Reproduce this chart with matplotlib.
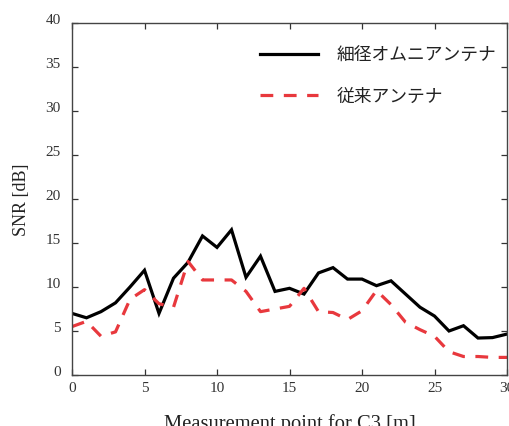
import matplotlib
matplotlib.use("Agg")
import matplotlib.pyplot as plt

# Measurement positions along C3 [m]
points = list(range(0, 31))

# SNR [dB] for the thin omnidirectional antenna
snr_omni = [7.0, 6.5, 7.2, 8.2, 10.0, 11.9, 7.0, 11.0, 12.8, 15.8, 14.5,
            16.5, 11.1, 13.5, 9.5, 9.85, 9.2, 11.6, 12.2, 10.9, 10.9,
            10.15, 10.7, 9.2, 7.7, 6.7, 5.0, 5.6, 4.2, 4.25, 4.65]

# SNR [dB] for the conventional antenna
snr_conv = [5.5, 6.1, 4.4, 4.9, 8.6, 9.7, 8.1, 7.7, 12.9, 10.8, 10.8,
            10.8, 9.5, 7.2, 7.5, 7.8, 9.85, 7.2, 7.1, 6.3, 7.3,
            9.6, 8.0, 6.0, 5.15, 4.4, 2.65, 2.1, 2.1, 2.0, 2.0]

labels = ["細径オムニアンテナ", "従来アンテナ"]
x_ticks = [0, 5, 10, 15, 20, 25, 30]
y_ticks = [0, 5, 10, 15, 20, 25, 30, 35, 40]

W, H = 509, 427
fig = plt.figure(figsize=(W / 100, H / 100), dpi=100)
ax = fig.add_axes([72 / W, (H - 376) / H, 435 / W, 352 / H])

ax.plot(points, snr_omni, color="black", lw=2.3, label=labels[0],
        solid_joinstyle="miter")
ax.plot(points, snr_conv, color="#E8383D", lw=2.3, label=labels[1],
        dashes=(4, 3.3))

ax.set_xlim(0, 30)
ax.set_ylim(0, 40)
ax.set_xticks(x_ticks)
ax.set_yticks(y_ticks)

serif = "Liberation Serif"
for lab in ax.get_xticklabels() + ax.get_yticklabels():
    lab.set_fontfamily(serif)
    lab.set_fontsize(11)
    lab.set_color("#333333")
# y tick labels sit with their baseline on the tick
for lab in ax.get_yticklabels():
    lab.set_verticalalignment("baseline")

ax.tick_params(direction="in", top=True, right=True, length=4,
               width=0.9, color="#333333")
ax.tick_params(axis="x", pad=4)
ax.tick_params(axis="y", pad=8)
for sp in ax.spines.values():
    sp.set_color("#444444")
    sp.set_linewidth(1.0)

ax.set_xlabel("Measurement point for C3 [m]", fontfamily=serif,
              fontsize=14.8, color="#222222", va="baseline")
ax.xaxis.set_label_coords(0.5, -0.150)
ax.set_ylabel("SNR [dB]", fontfamily=serif, fontsize=13,
              color="#222222", va="center")
ax.yaxis.set_label_coords(-0.117, 0.5)

leg = ax.legend(loc="upper right", frameon=False,
                prop={"family": ["Noto Sans CJK JP", "DejaVu Sans"], "size": 12.8},
                handlelength=3.3, handletextpad=1.02, labelspacing=1.3,
                bbox_to_anchor=(1.016, 0.985), borderaxespad=0.6)
for t in leg.get_texts():
    t.set_color("#222222")

fig.savefig("out.png", dpi=100)
